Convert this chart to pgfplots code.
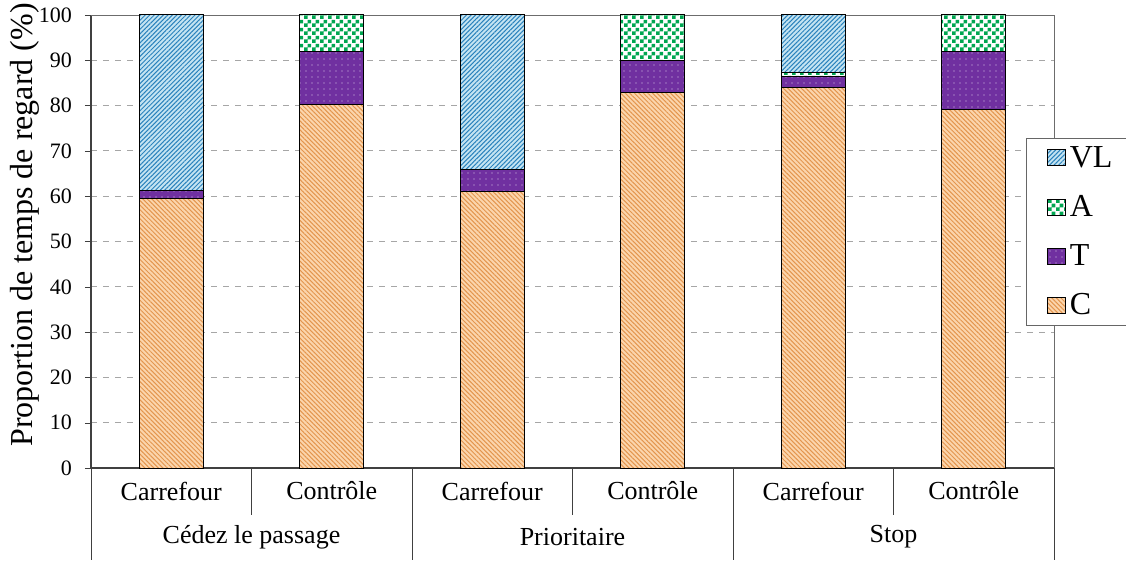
\documentclass[border=0pt]{standalone}
\usepackage{pgfplots}
\pgfplotsset{compat=1.18}
\usepackage{fontspec}
\setmainfont{Liberation Serif}
\usetikzlibrary{patterns,patterns.meta}
\definecolor{cfill}{HTML}{FBD5AC}
\definecolor{cline}{HTML}{E3954E}
\definecolor{vfill}{HTML}{C4E4F2}
\definecolor{vline}{HTML}{2A82BC}
\definecolor{agreen}{HTML}{00A651}
\definecolor{tpurple}{HTML}{7030A0}
\pgfdeclarepatternformonly{mychecker}{\pgfpointorigin}{\pgfqpoint{4pt}{4pt}}{\pgfqpoint{4pt}{4pt}}{%
  \pgfpathrectangle{\pgfpointorigin}{\pgfqpoint{2pt}{2pt}}%
  \pgfpathrectangle{\pgfqpoint{2pt}{2pt}}{\pgfqpoint{2pt}{2pt}}%
  \pgfusepath{fill}}
\begin{document}
\begin{tikzpicture}[x=0.5pt,y=0.5pt]
\useasboundingbox (0,0) rectangle (1126,563);
\begin{axis}[
  at={(45.5pt,47.5pt)}, anchor=south west,
  scale only axis, width=481.5pt, height=226.5pt,
  ybar stacked, bar width=32pt,
  xmin=0, xmax=6, ymin=0, ymax=100,
  xtick={0.5,1.5,2.5,3.5,4.5,5.5},
  xticklabels={Carrefour,Contrôle,Carrefour,Contrôle,Carrefour,Contrôle},
  xticklabel style={font=\fontsize{13}{15}\selectfont, anchor=center, yshift=-11.5pt},
  major x tick style={draw=none},
  ytick={0,10,...,100},
  yticklabel style={font=\fontsize{11}{13}\selectfont, anchor=east, xshift=-3pt},
  /pgf/number format/assume math mode=true,
  ymajorgrids, grid style={gray!70, dashed, line width=0.4pt},
  axis line style={black!75, line width=0.6pt},
  tick style={black!75},
  ytick align=outside, major tick length=3pt,
  axis x line*=bottom, axis y line*=left,
  ylabel={Proportion de temps de regard (\%)},
  ylabel style={font=\fontsize{16}{18}\selectfont, at={(-29pt,121.5pt)}, anchor=base},
  clip=false,
  legend style={at={(0.9714,0.7285)}, anchor=north west, draw=gray!80!black,
    font=\fontsize{16}{18}\selectfont, row sep=8.5pt, inner xsep=10pt, inner ysep=2pt,
    nodes={inner xsep=2pt}, cells={anchor=west},
    /tikz/every even column/.append style={text width=48pt}},
  legend cell align=left,
  reverse legend,
  legend image code/.code={\draw[#1, line width=0.5pt] (0pt,-3.8pt) rectangle (9pt,4.2pt);},
]
\addplot[draw=black, line width=0.5pt, fill=cfill, postaction={pattern={Lines[angle=-45,distance=1.6pt,line width=0.5pt]}, pattern color=cline}]
  coordinates {(0.5,59.5) (1.5,80.3) (2.5,61.0) (3.5,83.0) (4.5,84.0) (5.5,79.2)};
\addplot[draw=black, line width=0.5pt, fill=tpurple, postaction={pattern={Dots[distance=3pt,radius=0.35pt]}, pattern color=white!75!tpurple}]
  coordinates {(0.5,1.7) (1.5,11.6) (2.5,4.8) (3.5,7.0) (4.5,2.4) (5.5,12.7)};
\addplot[draw=black, line width=0.5pt, fill=white, postaction={pattern=mychecker, pattern color=agreen}]
  coordinates {(0.5,0) (1.5,8.1) (2.5,0) (3.5,10.0) (4.5,0.8) (5.5,8.1)};
\addplot[draw=black, line width=0.5pt, fill=vfill, postaction={pattern={Lines[angle=45,distance=1.6pt,line width=0.5pt]}, pattern color=vline}]
  coordinates {(0.5,38.8) (1.5,0) (2.5,34.2) (3.5,0) (4.5,12.8) (5.5,0)};
\legend{C,T,A,VL}
\draw[gray!85!black] (axis cs:6,0) -- (axis cs:6,100);
\draw[gray!85!black] (axis cs:0,100) -- (axis cs:6,100);
\pgfplotsinvokeforeach{1,3,5}{\draw[black!75] (axis cs:#1,0) -- ++(0,-23.5pt);}
\pgfplotsinvokeforeach{0,2,4,6}{\draw[black!75] (axis cs:#1,0) -- ++(0,-46pt);}
\node[font=\fontsize{13}{15}\selectfont] at ([yshift=-34.5pt]axis cs:1,0) {Cédez le passage};
\node[font=\fontsize{13}{15}\selectfont] at ([yshift=-34.5pt]axis cs:3,0) {Prioritaire};
\node[font=\fontsize{13}{15}\selectfont] at ([yshift=-34.5pt]axis cs:5,0) {Stop};
\end{axis}
\end{tikzpicture}
\end{document}
